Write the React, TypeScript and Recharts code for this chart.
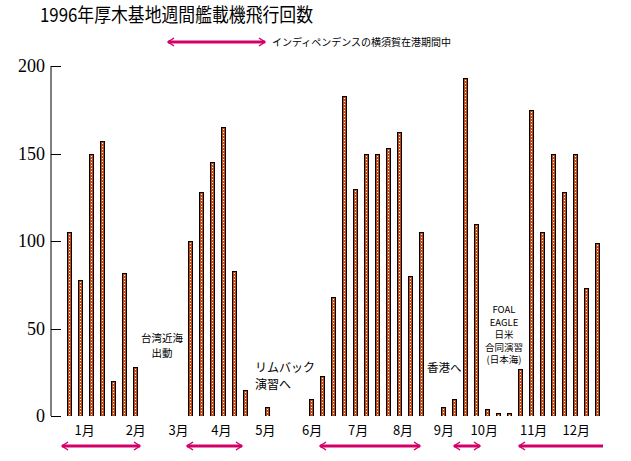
import React from "react";
import { BarChart, Bar, XAxis, YAxis } from "recharts";

// weekly carrier-aircraft sorties at Atsugi, 1996 (one slot per week, slot 0 empty)
const weeklySorties = [
  0, 105, 78, 150, 157, 20, 82, 28, 0, 0,
  0, 0, 100, 128, 145, 165, 83, 15, 0, 5,
  0, 0, 0, 10, 23, 68, 183, 130, 150, 150,
  153, 162, 80, 105, 0, 5, 10, 193, 110, 4,
  2, 2, 27, 175, 105, 150, 128, 150, 73, 99,
];
const weekBoundaries = Array.from({ length: weeklySorties.length + 1 }, (_, i) => i);
const monthLabels = ["1月", "2月", "3月", "4月", "5月", "6月", "7月", "8月", "9月", "10月", "11月", "12月"];
const monthPositions = [3.0, 7.55, 11.36, 15.18, 19.1, 23.27, 27.36, 31.36, 35.0, 38.6, 43.0, 46.8];
const yTicks = [0, 50, 100, 150, 200];

const rows = weeklySorties.map((v, i) => ({ pos: i + 0.75, sorties: v }));

const PINK = "#d4006a";
const BROWN = "#c24a16";
const JP = "'Noto Sans CJK JP', 'Noto Sans', sans-serif";

const SortieBar = (props: any) => {
  const { x, y, height } = props;
  if (!height || height <= 0) return null;
  const left = Math.round(x - 0.5);
  const top = Math.round(y);
  const h = Math.max(2, Math.round(y + height) - top);
  return (
    <g>
      <rect x={left} y={top} width={5} height={h} fill="#000" />
      <rect x={left + 1} y={top + 1} width={3} height={h - 1} fill={BROWN} />
      <line x1={left + 2.5} y1={top + 2} x2={left + 2.5} y2={top + h} stroke="#fff" strokeWidth={1} strokeDasharray="1 2" />
    </g>
  );
};

const WeekTick = (props: any) => {
  const { x, y } = props;
  const px = Math.round(x) + 0.5;
  return <line x1={px} y1={y} x2={px} y2={y - 5} stroke="#000" strokeWidth={1} />;
};

const ValueTick = (props: any) => {
  const { x, y, payload } = props;
  const py = Math.round(y) + 0.5;
  return (
    <g>
      <line x1={x + 6} y1={py} x2={x + 16} y2={py} stroke="#000" strokeWidth={1} />
      <text x={x} y={y} dy="0.36em" textAnchor="end" fontSize={18} fontFamily="'Liberation Serif', serif" fill="#000">
        {payload.value}
      </text>
    </g>
  );
};

function Arrow({ x1, x2, y, left = true, right = true }: { x1: number; x2: number; y: number; left?: boolean; right?: boolean }) {
  return (
    <g stroke={PINK} fill="none">
      <line x1={x1} y1={y} x2={x2} y2={y} strokeWidth={3} />
      {left && <polyline points={`${x1 + 6},${y - 4} ${x1},${y} ${x1 + 6},${y + 4}`} strokeWidth={1.5} />}
      {right && <polyline points={`${x2 - 6},${y - 4} ${x2},${y} ${x2 - 6},${y + 4}`} strokeWidth={1.5} />}
    </g>
  );
}

const Note = ({ x, y, lines, size = 12, anchor = "middle", gap = 13 }: any) => (
  <text x={x} y={y} fontSize={size} fontFamily={JP} textAnchor={anchor} fill="#000">
    {lines.map((l: string, i: number) => (
      <tspan key={i} x={x} dy={i === 0 ? 0 : gap}>
        {l}
      </tspan>
    ))}
  </text>
);

export default function App() {
  return (
    <div style={{ position: "absolute", left: 0, top: 0, width: 631, height: 461, background: "#fff" }}>
      <BarChart width={631} height={461} data={rows} margin={{ top: 66, right: 30, bottom: 15, left: 0 }}>
        <XAxis
          xAxisId="w"
          dataKey="pos"
          type="number"
          scale="linear"
          domain={[0, weeklySorties.length]}
          ticks={weekBoundaries}
          interval={0}
          height={0}
          tickSize={0}
          tickMargin={0}
          tickLine={false}
          tick={<WeekTick />}
          axisLine={{ stroke: "#000" }}
        />
        <XAxis
          xAxisId="m"
          type="number"
          scale="linear"
          domain={[0, weeklySorties.length]}
          allowDataOverflow
          ticks={monthPositions}
          interval={0}
          height={30}
          tickSize={0}
          tickMargin={10}
          tickLine={false}
          axisLine={false}
          tickFormatter={(v: number) => monthLabels[monthPositions.indexOf(v)] ?? ""}
          tick={{ fontSize: 13, fontFamily: JP, fill: "#000" }}
        />
        <YAxis
          domain={[0, 200]}
          ticks={yTicks}
          interval={0}
          width={51}
          tickSize={0}
          tickMargin={6}
          tickLine={false}
          tick={<ValueTick />}
          axisLine={{ stroke: "#000" }}
        />
        <Bar xAxisId="w" dataKey="sorties" barSize={5} shape={<SortieBar />} isAnimationActive={false} />
      </BarChart>
      <svg width={631} height={461} style={{ position: "absolute", left: 0, top: 0, pointerEvents: "none" }}>
        <text x={40} y={22} fontSize={19} fontFamily={JP} fill="#000" textLength={273} lengthAdjust="spacingAndGlyphs">
          1996年厚木基地週間艦載機飛行回数
        </text>
        <Arrow x1={168} x2={265} y={42} />
        <text x={272} y={45.5} fontSize={10} fontFamily={JP} fill="#000">
          インディペンデンスの横須賀在港期間中
        </text>
        <Note x={162} y={342} lines={["台湾近海", "出動"]} size={10.5} gap={15} />
        <Note x={255} y={372} lines={["リムバック", "演習へ"]} size={12} anchor="start" gap={17} />
        <Note x={427} y={372} lines={["香港へ"]} size={11.5} anchor="start" />
        <Note x={504} y={313} lines={["FOAL", "EAGLE", "日米", "合同演習", "(日本海)"]} size={9.5} gap={12.5} />
        <Arrow x1={62} x2={140} y={446} />
        <Arrow x1={187} x2={242} y={446} />
        <Arrow x1={320} x2={420} y={446} />
        <Arrow x1={454} x2={480} y={446} />
        <Arrow x1={519} x2={603} y={446} right={false} />
      </svg>
    </div>
  );
}
